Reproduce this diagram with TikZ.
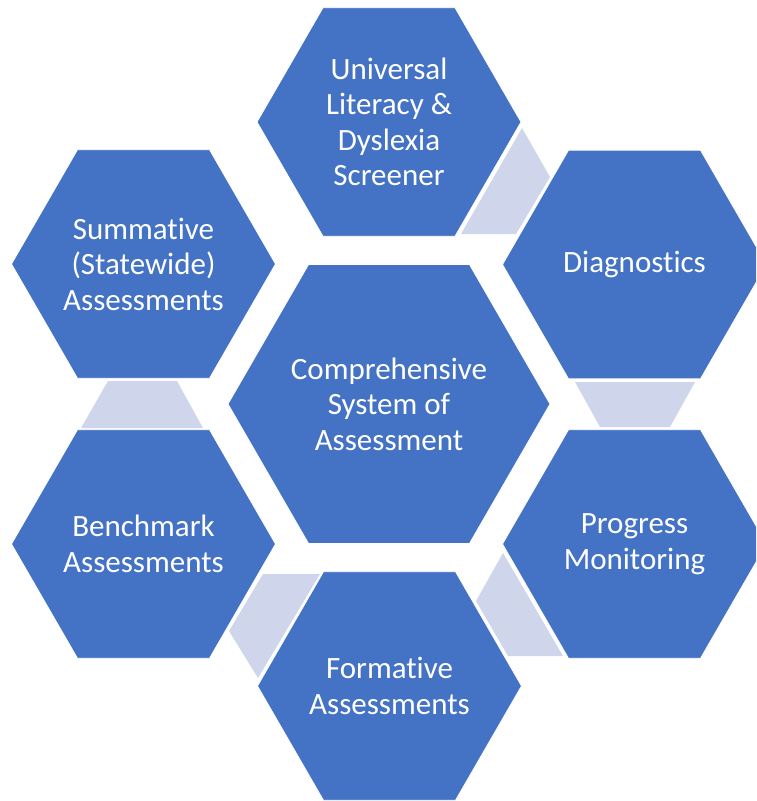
\documentclass[tikz,border=0pt]{standalone}
\usepackage{fontspec}
\setmainfont{Carlito}[Ligatures={NoCommon}]
\usetikzlibrary{shapes.geometric}
\definecolor{hexblue}{HTML}{4472C4}
\definecolor{linkgrey}{HTML}{CFD5EA}
\tikzset{
  hexbox/.style={regular polygon, regular polygon sides=6, fill=hexblue, draw=white, line width=0.8pt,
    inner sep=0pt, minimum size=264pt, text=white, align=center,
    font=\fontsize{31}{35.5}\selectfont},
  bighex/.style={hexbox, minimum size=322pt},
  linkshape/.style={fill=linkgrey, draw=none}
}
\begin{document}
\begin{tikzpicture}[x=1pt,y=-1pt]
\useasboundingbox (0,0) rectangle (756,801);
\clip (0,0) rectangle (756,801);
% connector shapes between neighbouring hexagons
\fill[linkshape] (522,128) -- (550,177) -- (516,234) -- (461,234) -- cycle;
\fill[linkshape] (575,382) -- (695,382) -- (670,427) -- (600,427) -- cycle;
\fill[linkshape] (503,553) -- (476,601) -- (508,656) -- (563,656) -- cycle;
\fill[linkshape] (263,574) -- (320,574) -- (258,678) -- (229,631) -- cycle;
\fill[linkshape] (108,381) -- (177,381) -- (203,428) -- (81,428) -- cycle;
% hexagons
\node[bighex] (core) at (389,404) {Comprehensive\\System of\\Assessment};
\node[hexbox] (screener) at (389,122) {Universal\\Literacy \&\\Dyslexia\\Screener};
\node[hexbox] (diag) at (634.5,264.5) {Diagnostics};
\node[hexbox] (progress) at (634.5,544) {Progress\\Monitoring};
\node[hexbox] (formative) at (389.5,686) {Formative\\Assessments};
\node[hexbox] (benchmark) at (143.5,544) {Benchmark\\Assessments};
\node[hexbox] (summative) at (143.5,264) {Summative\\(Statewide)\\Assessments};
\end{tikzpicture}
\end{document}
